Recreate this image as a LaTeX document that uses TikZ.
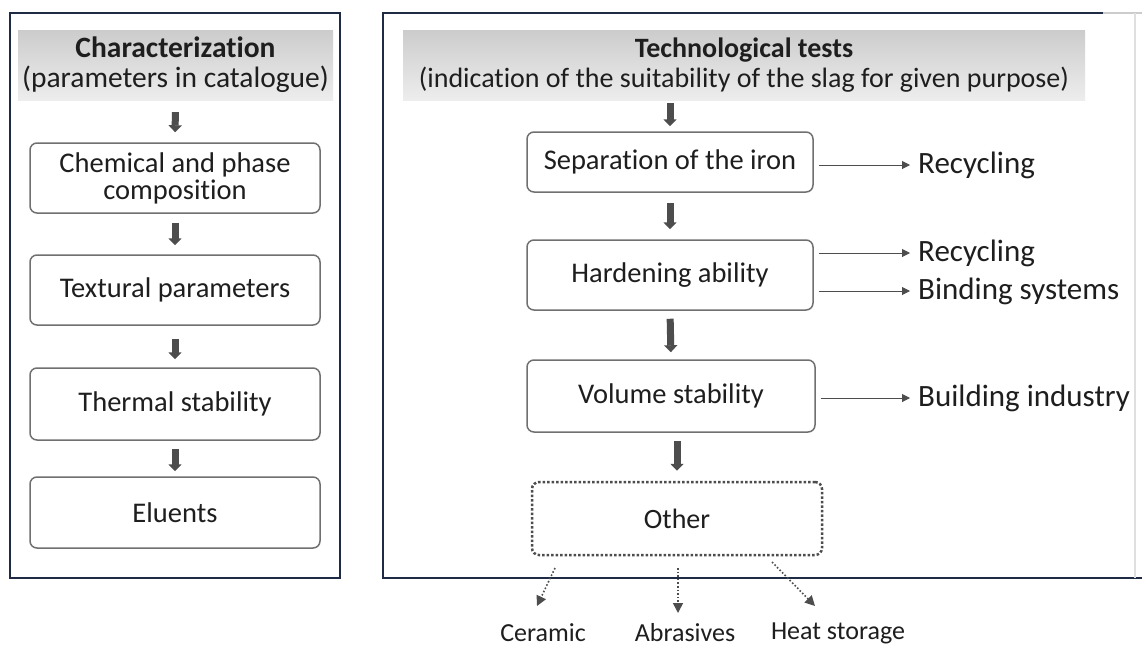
\documentclass[tikz,border=0pt]{standalone}
\usepackage{fontspec}
\setmainfont{Carlito}[Ligatures={NoCommon}]
\usetikzlibrary{arrows.meta,calc}
\definecolor{navy}{HTML}{1F2B45}
\definecolor{txt}{HTML}{1E1E1E}
\definecolor{boxline}{HTML}{707070}
\definecolor{arr}{HTML}{4D4D4D}
\begin{document}
\begin{tikzpicture}[x=1pt,y=-1pt,
  every node/.style={text=txt},
  frameline/.style={draw=navy, line width=2.5pt},
  hdr/.style={top color=gray!40, bottom color=gray!14, draw=none, minimum height=70pt, inner sep=0pt, align=center},
  stepbox/.style={draw=boxline, line width=1.5pt, rounded corners=7pt, fill=white, align=center, font=\fontsize{28.5}{27}\selectfont, inner sep=0pt},
  otherbox/.style={draw=arr, line width=2.5pt, dotted, rounded corners=7pt, fill=white, align=center, font=\fontsize{28}{27}\selectfont, inner sep=0pt},
  biglabel/.style={anchor=west, inner sep=0pt, font=\fontsize{31}{31}\selectfont},
  smalllabel/.style={inner sep=0pt, font=\fontsize{26}{26}\selectfont},
  bigarrow/.style={draw=arr, line width=7pt, -{Triangle[width=13pt,length=7pt]}},
  thinarrow/.style={draw=arr, line width=1pt, -{Triangle[width=8pt,length=8pt]}, shorten <=5pt, shorten >=8pt},
  dotarrow/.style={draw=arr, line width=1.6pt, dotted, -{Triangle[width=10pt,length=10pt]}}
]
\useasboundingbox (0,0) rectangle (1142,648);
\fill[white] (0,0) rectangle (1142,648);

% frames
\draw[frameline] (10,13) rectangle (340,578);
\draw[frameline] (1103,13) -- (383,13) -- (383,578) -- (1142,578);
\draw[gray!40, line width=1.5pt] (1103,13) -- (1142,13);
\draw[gray!25, line width=1.2pt] (1135,13) -- (1135,578);

% left column
\node[hdr, minimum width=315pt, font=\fontsize{29.5}{30}\selectfont] (hL) at (175.5,65) {\textbf{Characterization}\\(parameters in catalogue)};
\node[stepbox, minimum width=290pt, minimum height=70pt] (b1) at (175,178) {Chemical and phase\\composition};
\node[stepbox, minimum width=290pt, minimum height=70pt] (b2) at (175,290) {Textural parameters};
\node[stepbox, minimum width=290pt, minimum height=72pt] (b3) at (175,404) {Thermal stability};
\node[stepbox, minimum width=290pt, minimum height=71pt] (b4) at (175,512.5) {Eluents};

\draw[bigarrow, shorten <=12pt, shorten >=10pt] (hL.south) -- (b1.north);
\draw[bigarrow, shorten <=9pt, shorten >=9pt] (b1.south) -- (b2.north);
\draw[bigarrow, shorten <=13pt, shorten >=8pt] (b2.south) -- (b3.north);
\draw[bigarrow, shorten <=8pt, shorten >=5pt] (b3.south) -- (b4.north);

% right column
\node[hdr, minimum width=682pt, font=\fontsize{28}{30}\selectfont] (hR) at (744,65) {\textbf{Technological tests}\\(indication of the suitability of the slag for given purpose)};
\node[stepbox, minimum width=286pt, minimum height=60pt] (r1) at (670,162) {Separation of the iron};
\node[stepbox, minimum width=286pt, minimum height=70pt] (r2) at (670,275) {Hardening ability};
\node[stepbox, minimum width=288pt, minimum height=72pt] (r3) at (671,396) {Volume stability};
\node[otherbox, minimum width=290pt, minimum height=73pt] (other) at (677,518.5) {Other};

\draw[bigarrow, shorten <=3pt, shorten >=5pt] (hR.south -| r1.north) -- (r1.north);
\draw[bigarrow, shorten <=10pt, shorten >=10pt] (r1.south) -- (r2.north);
\draw[bigarrow, shorten <=8pt, shorten >=7pt] (r2.south) -- (r3.north);
\draw[bigarrow, shorten <=8pt, shorten >=10pt] (r3.south -| other.north) -- (other.north);

% outcome labels
\node[biglabel] (rec1) at (918,165) {Recycling};
\node[biglabel] (rec2) at (918,253) {Recycling};
\node[biglabel] (bind) at (918,291) {Binding systems};
\node[biglabel] (build) at (918,398) {Building industry};

\draw[thinarrow] (r1.east |- rec1.west) -- (rec1.west);
\draw[thinarrow] (r2.east |- rec2.west) -- (rec2.west);
\draw[thinarrow] (r2.east |- bind.west) -- (bind.west);
\draw[thinarrow] (r3.east |- build.west) -- (build.west);

% bottom labels
\node[smalllabel] (ceramic) at (543,633) {Ceramic};
\node[smalllabel] (abras) at (685,633) {Abrasives};
\node[smalllabel] (heat) at (838,633) {Heat storage};

\coordinate (o1) at (555,568);
\coordinate (e1) at (537,606);
\coordinate (o2) at (678,568);
\coordinate (e2) at (678,613);
\coordinate (o3) at (772,562);
\coordinate (e3) at (815,606);
\draw[dotarrow] (o1) -- (e1);
\draw[dotarrow] (o2) -- (e2);
\draw[dotarrow] (o3) -- (e3);
\end{tikzpicture}
\end{document}
